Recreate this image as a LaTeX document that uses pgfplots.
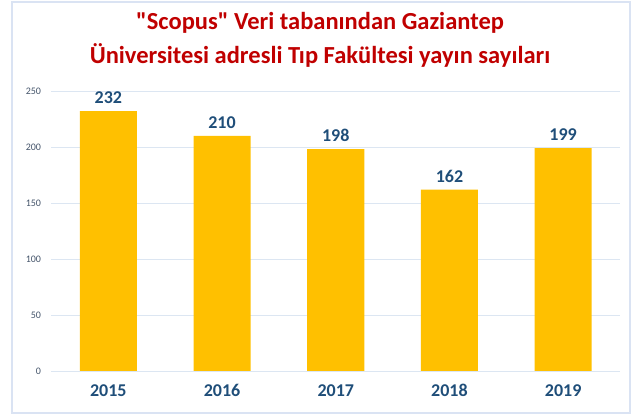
\documentclass[border=0pt]{standalone}
\usepackage{fontspec}
\setmainfont{Carlito}
\newfontfamily\rawfont{Carlito}[Ligatures=TeXOff]
\usepackage{pgfplots}
\pgfplotsset{compat=1.18}
\definecolor{barcol}{HTML}{FFC000}
\definecolor{titlered}{HTML}{C00000}
\definecolor{lblblue}{HTML}{1F4E79}
\definecolor{tickcol}{HTML}{44546A}
\definecolor{gridcol}{HTML}{DCE6F2}
\definecolor{framecol}{HTML}{DAE3F3}
\begin{document}
\begin{tikzpicture}[x=1pt,y=1pt]
\path[use as bounding box] (0,0) rectangle (635,418);
\draw[color=framecol, line width=1.5pt] (12,5) rectangle (630,416);
\node[text=titlered, align=center, font=\fontsize{24.5}{33.5}\selectfont\bfseries] at (320,378) {{\rawfont\bfseries "}Scopus{\rawfont\bfseries "} Veri tabanından Gaziantep\\Üniversitesi adresli Tıp Fakültesi yayın sayıları};
\begin{axis}[
  at={(51.5pt,47pt)}, anchor=south west,
  scale only axis, width=568.5pt, height=280pt,
  xmin=-0.5, xmax=4.5, ymin=0, ymax=250,
  axis line style={draw=none},
  major tick length=0pt,
  ymajorgrids, grid style={color=gridcol, line width=0.8pt},
  ytick={0,50,100,150,200,250},
  xtick=data, xticklabels={2015,2016,2017,2018,2019},
  /pgf/number format/assume math mode=true,
  yticklabel style={font=\fontsize{10}{12}\selectfont, text=tickcol, xshift=-7pt},
  xticklabel style={font=\fontsize{18}{22}\selectfont\bfseries, text=lblblue, text height=12pt, text depth=0pt, yshift=-10pt},
  ybar, bar width=57pt,
  nodes near coords,
  every node near coord/.append style={font=\fontsize{18}{22}\selectfont\bfseries, text=lblblue, text height=12pt, text depth=0pt, yshift=4pt},
]
\addplot[fill=barcol, draw=none] coordinates {(0,232) (1,210) (2,198) (3,162) (4,199)};
\end{axis}
\end{tikzpicture}
\end{document}
